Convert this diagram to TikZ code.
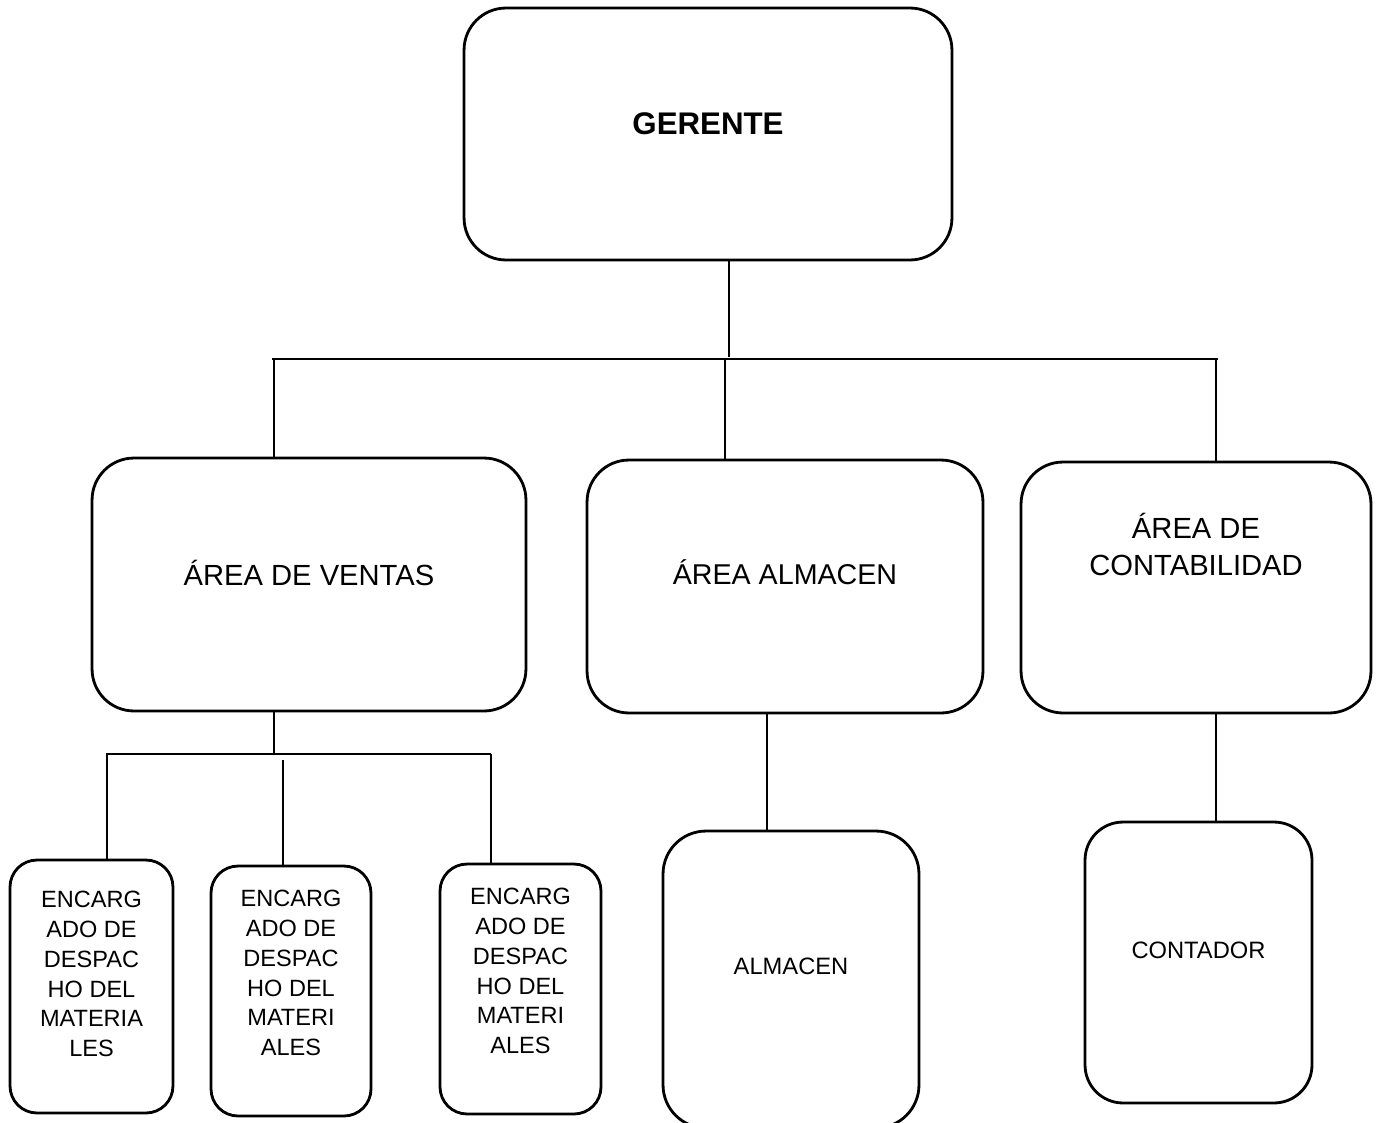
\documentclass[tikz,border=0pt]{standalone}
\usepackage{fontspec}
\setmainfont{Liberation Sans}

\tikzset{
  puesto/.style={draw, line width=1.6pt, inner sep=0pt},
  enlace/.style={line width=0.7pt},
  rotulo/.style={align=center, inner sep=0pt},
  area/.style={rotulo, font=\fontsize{16.6}{21}\selectfont},
  cargo/.style={rotulo, font=\fontsize{13.4}{17}\selectfont},
}

\begin{document}
\begin{tikzpicture}[x=0.02cm, y=-0.02cm]
  \clip (0,0) rectangle (1378,1122);

  % gerencia
  \node[puesto, rounded corners=0.84cm, minimum width=9.76cm, minimum height=5.04cm,
    label={[rotulo, yshift=0.2cm, font=\fontsize{17.8}{21}\selectfont\bfseries]center:GERENTE}]
    (gerente) at (708,134) {};

  % areas
  \node[puesto, rounded corners=0.84cm, minimum width=8.68cm, minimum height=5.06cm,
    label={[area, yshift=0.24cm]center:ÁREA DE VENTAS}] (ventas) at (309,584.5) {};
  \node[puesto, rounded corners=0.84cm, minimum width=7.92cm, minimum height=5.06cm,
    label={[area, yshift=0.28cm, font=\fontsize{16.3}{21}\selectfont]center:ÁREA ALMACEN}] (areaalm) at (785,586.5) {};
  \node[puesto, rounded corners=0.84cm, minimum width=7.0cm, minimum height=5.02cm,
    label={[area, yshift=0.86cm]center:ÁREA DE\\CONTABILIDAD}] (contab) at (1196,587.5) {};

  % cargos
  \node[puesto, rounded corners=0.54cm, minimum width=3.26cm, minimum height=5.06cm,
    label={[cargo, yshift=0.25cm]center:ENCARG\\ADO DE\\DESPAC\\HO DEL\\MATERIA\\LES}] (enc1) at (91.5,986.5) {};
  \node[puesto, rounded corners=0.54cm, minimum width=3.2cm, minimum height=5.0cm,
    label={[cargo, yshift=0.36cm]center:ENCARG\\ADO DE\\DESPAC\\HO DEL\\MATERI\\ALES}] (enc2) at (291,991) {};
  \node[puesto, rounded corners=0.54cm, minimum width=3.22cm, minimum height=5.0cm,
    label={[cargo, yshift=0.36cm]center:ENCARG\\ADO DE\\DESPAC\\HO DEL\\MATERI\\ALES}] (enc3) at (520.5,989) {};
  \node[puesto, rounded corners=0.86cm, minimum width=5.12cm, minimum height=5.94cm,
    label={[cargo, yshift=0.27cm, font=\fontsize{13.5}{17}\selectfont]center:ALMACEN}] (almacen) at (791,979.5) {};
  \node[puesto, rounded corners=0.76cm, minimum width=4.54cm, minimum height=5.62cm,
    label={[cargo, yshift=0.25cm, font=\fontsize{13.5}{17}\selectfont]center:CONTADOR}] (contador) at (1198.5,962.5) {};

  % lineas
  \coordinate (busL) at (272,359);
  \coordinate (busR) at (1218,359);
  \coordinate (bajada) at (729,357);
  \coordinate (tV) at (274,359);
  \coordinate (tA) at (725,359);
  \coordinate (tC) at (1216,359);
  \draw[enlace] (busL) -- (busR);
  \draw[enlace] (gerente.south -| bajada) -- (bajada);
  \draw[enlace] (tV) -- (tV |- ventas.north);
  \draw[enlace] (tA) -- (tA |- areaalm.north);
  \draw[enlace] (tC) -- (tC |- contab.north);

  \coordinate (sV) at (274,754);
  \coordinate (bus2L) at (106,754);
  \coordinate (bus2R) at (491,754);
  \coordinate (t1) at (107,754);
  \coordinate (t2) at (283,760);
  \draw[enlace] (ventas.south -| sV) -- (sV);
  \draw[enlace] (bus2L) -- (bus2R);
  \draw[enlace] (t1) -- (t1 |- enc1.north);
  \draw[enlace] (t2) -- (t2 |- enc2.north);
  \draw[enlace] (bus2R) -- (bus2R |- enc3.north);

  \coordinate (tAl) at (767,713);
  \draw[enlace] (tAl |- areaalm.south) -- (tAl |- almacen.north);
  \draw[enlace] (contab.south -| tC) -- (tC |- contador.north);
\end{tikzpicture}
\end{document}
